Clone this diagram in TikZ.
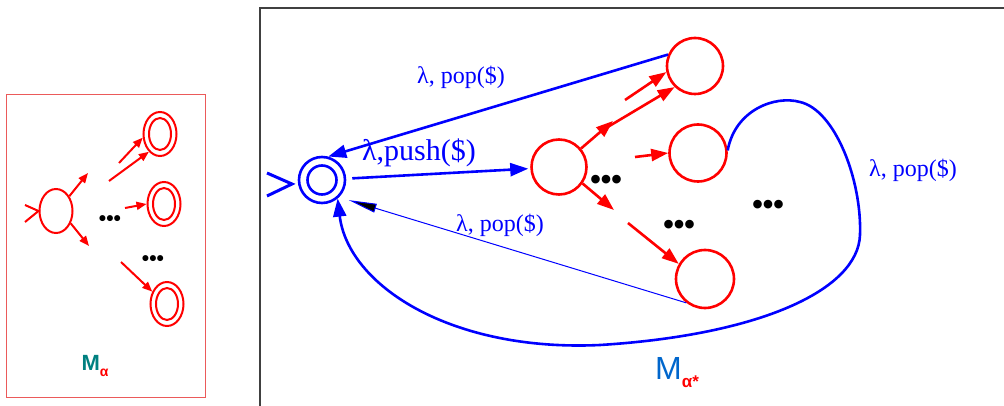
\documentclass[tikz,border=0pt]{standalone}
\usepackage{fontspec}
\setmainfont{Liberation Serif}
\newfontfamily\sansf{Liberation Sans}
\usetikzlibrary{arrows.meta,shapes.geometric,calc}
\definecolor{ared}{RGB}{255,0,0}
\definecolor{ablue}{RGB}{0,0,255}
\definecolor{boxred}{RGB}{235,90,90}
\definecolor{mteal}{RGB}{0,128,128}
\definecolor{mblue}{RGB}{0,102,204}
\begin{document}
\begin{tikzpicture}[x=1pt,y=-1pt,
  smallstate/.style={ellipse, draw=ared, line width=2pt, minimum width=33pt, minimum height=44pt, inner sep=0pt},
  bigstate/.style={circle, draw=ared, line width=2.6pt, minimum size=56pt, inner sep=0pt},
  redarr/.style={draw=ared, line width=2.6pt, -{Triangle[length=17pt,width=12pt]}},
  smallarr/.style={draw=ared, line width=2pt, -{Triangle[length=10pt,width=8pt]}},
  bluearr/.style={draw=ablue, line width=2.6pt, -{Triangle[length=18pt,width=13pt]}},
  thinarr/.style={draw=ablue, line width=1pt, -{Triangle[length=28pt,width=9pt,fill=black]}},
  lbl/.style={text=ablue, font=\fontsize{24}{26}\selectfont, inner sep=0pt},
  dots/.style={inner sep=0pt}
]
\useasboundingbox (0,0) rectangle (1004,406);

% ---------- small machine M_alpha ----------
\draw[boxred, line width=1pt] (6,95) rectangle (205,397);
\node[smallstate] (s0) at (56,211) {};
\node[smallstate] (f1) at (160,134) {};
\node[smallstate] (f2) at (164,204) {};
\node[smallstate] (f3) at (167,304) {};
\foreach \n in {f1,f2,f3}
  \draw[ared, line width=2pt] (\n.center) ellipse [x radius=11, y radius=16];
% start marker
\coordinate (sm1) at (25,205);
\coordinate (sm2) at (25,222);
\draw[ared, line width=2pt] (sm1) -- (s0.west) -- (sm2);
% transitions
\coordinate (su) at (88,173);
\coordinate (sd) at (89,246);
\draw[smallarr] (s0.48) -- (su);
\draw[smallarr] (s0.-40) -- (sd);
\coordinate (a1) at (119,163);
\coordinate (a2) at (109,181);
\coordinate (a3) at (125,208);
\coordinate (a4) at (121,262);
\draw[smallarr] (a1) -- (f1.192);
\draw[smallarr] (a2) -- (f1.238);
\draw[smallarr] (a3) -- (f2.west);
\draw[smallarr] (a4) -- (f3.140);
\node[dots, font=\sansf\bfseries\fontsize{21}{21}\selectfont] (d1) at (110,221) {•••};
\node[dots, font=\sansf\bfseries\fontsize{21}{21}\selectfont] (d2) at (153,261) {•••};
\node[inner sep=0pt, font=\sansf\bfseries] (ma) at (95,366)
  {\textcolor{mteal}{\fontsize{22}{22}\selectfont M}\textcolor{ared}{\fontsize{14}{14}\selectfont\raisebox{-6pt}{α}}};

% ---------- frame of M_alpha* ----------
\draw[black!75, line width=1.3pt] (260,406) -- (260,8) -- (1004,8);

% ---------- states ----------
\node[circle, draw=ablue, line width=2.6pt, minimum size=46pt, inner sep=0pt] (q0) at (322,180) {};
\draw[ablue, line width=2.6pt] (q0.center) circle [radius=14.5];
\coordinate (qm1) at (267,173);
\coordinate (qm2) at (267,196);
\coordinate (qmt) at (292,184);
\draw[ablue, line width=3pt] (qm1) -- (qmt) -- (qm2);

\node[bigstate, minimum size=55pt] (A) at (559,167) {};
\node[bigstate] (B) at (695,66) {};
\node[bigstate, minimum size=57pt] (C) at (698,153) {};
\node[bigstate, minimum size=58pt] (D) at (705,279) {};

% red transitions
\coordinate (r1) at (613,121);
\coordinate (r2) at (625,100);
\coordinate (r3) at (606,128);
\coordinate (r4) at (635,157);
\coordinate (r5) at (614,210);
\coordinate (r6) at (628,223);
\draw[redarr] (A.40) -- (r1);
\draw[redarr] (r2) -- (B.192);
\draw[redarr] (r3) -- (B.226);
\draw[redarr] (r4) -- (C.west);
\draw[redarr] (A.-35) -- (r5);
\draw[redarr] (r6) -- (D.150);

\node[dots, font=\sansf\bfseries\fontsize{30}{30}\selectfont] (d3) at (606,182) {•••};
\node[dots, font=\sansf\bfseries\fontsize{30}{30}\selectfont] (d4) at (679,227) {•••};
\node[dots, font=\sansf\bfseries\fontsize{30}{30}\selectfont] (d5) at (768,207) {•••};

% blue transitions
\draw[bluearr, shorten <=6pt, shorten >=2pt] (q0) -- (A);
\draw[bluearr] (B.157) -- (q0.75);
\draw[thinarr, shorten >=10pt] (D.232) -- (q0.-45);
\draw[bluearr] (C.5) .. controls (735,110) and (775,95) .. (800,102)
  .. controls (835,110) and (862,180) .. (860,235)
  .. controls (858,290) and (760,335) .. (600,345)
  .. controls (450,352) and (348,285) .. (q0.-50);

% labels
\node[lbl, font=\fontsize{30}{32}\selectfont] (lpush) at (419,153) {λ,push(\$)};
\node[lbl] (lpop1) at (461,77) {λ, pop(\$)};
\node[lbl] (lpop2) at (500,225) {λ, pop(\$)};
\node[lbl] (lpop3) at (913,170) {λ, pop(\$)};

\node[inner sep=0pt, font=\sansf] (mas) at (677,373)
  {\textcolor{mblue}{\fontsize{32}{32}\selectfont M}\textcolor{ared}{\bfseries\fontsize{17}{17}\selectfont\raisebox{-8pt}{α*}}};
\end{tikzpicture}
\end{document}
